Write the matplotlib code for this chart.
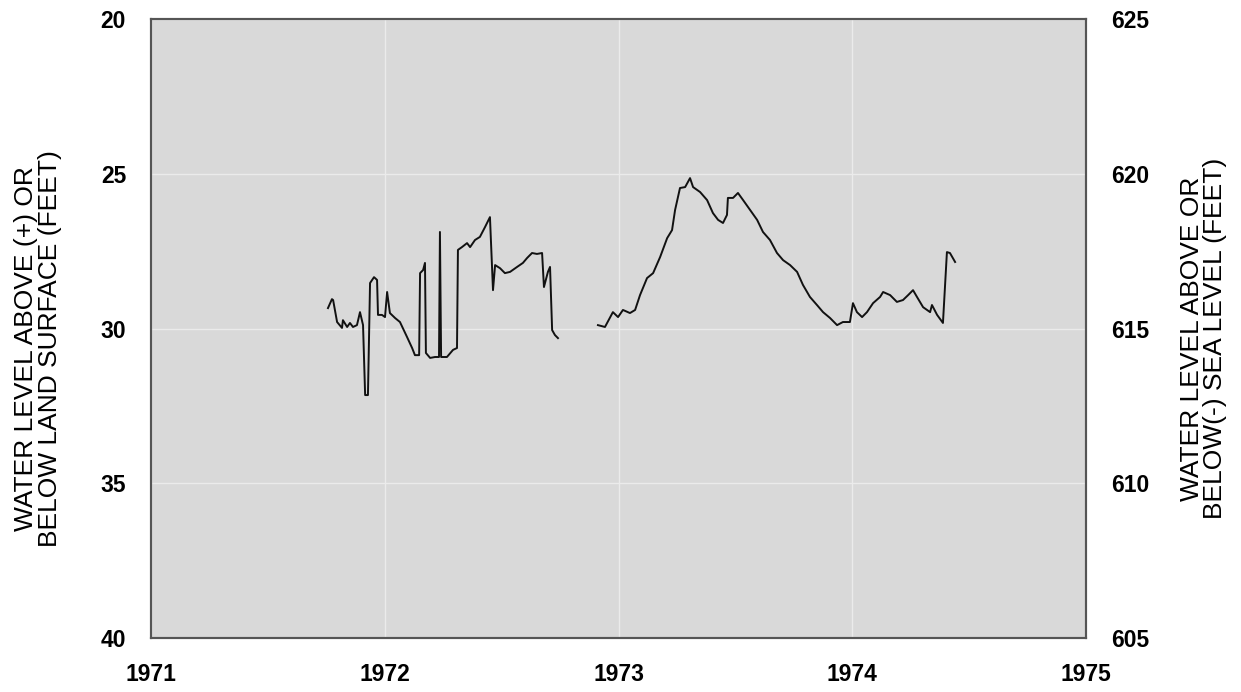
import numpy as np
import matplotlib
matplotlib.use('Agg')
import matplotlib.pyplot as plt

# water level below land surface (feet), decimal years
yr_1 = [1971.757, 1971.774, 1971.779, 1971.796, 1971.817, 1971.821, 1971.839, 1971.851,
        1971.864, 1971.881, 1971.894, 1971.907, 1971.916, 1971.928, 1971.937, 1971.954,
        1971.967, 1971.971, 1971.988, 1972.001, 1972.010, 1972.022, 1972.044, 1972.065,
        1972.095, 1972.117, 1972.129, 1972.147, 1972.151, 1972.164, 1972.172, 1972.176,
        1972.194, 1972.215, 1972.232, 1972.236, 1972.241, 1972.266, 1972.292, 1972.309,
        1972.313, 1972.330, 1972.352, 1972.365, 1972.386, 1972.407, 1972.429, 1972.450,
        1972.463, 1972.472, 1972.493, 1972.514, 1972.536, 1972.566, 1972.591, 1972.609,
        1972.630, 1972.651, 1972.673, 1972.681, 1972.698, 1972.707, 1972.716, 1972.728,
        1972.741]
lvl_1 = [29.34, 29.05, 29.08, 29.79, 29.98, 29.73, 29.95, 29.82,
         29.95, 29.89, 29.47, 29.89, 32.15, 32.15, 28.53, 28.34,
         28.43, 29.56, 29.56, 29.63, 28.82, 29.50, 29.66, 29.79,
         30.27, 30.63, 30.86, 30.86, 28.21, 28.11, 27.88, 30.79,
         30.95, 30.92, 30.92, 26.88, 30.92, 30.92, 30.69, 30.63,
         27.46, 27.37, 27.24, 27.37, 27.14, 27.04, 26.72, 26.40,
         28.76, 27.95, 28.05, 28.21, 28.17, 28.01, 27.88, 27.72,
         27.56, 27.59, 27.56, 28.66, 28.17, 28.01, 30.05, 30.21,
         30.31]

yr_2 = [1972.912, 1972.942, 1972.976, 1972.998, 1973.019, 1973.049, 1973.071, 1973.092,
        1973.122, 1973.148, 1973.178, 1973.208, 1973.229, 1973.242, 1973.263, 1973.285,
        1973.306, 1973.319, 1973.349, 1973.379, 1973.404, 1973.426, 1973.447, 1973.464,
        1973.468, 1973.490, 1973.511, 1973.533, 1973.563, 1973.593, 1973.618, 1973.648,
        1973.678, 1973.704, 1973.734, 1973.764, 1973.789, 1973.819, 1973.849, 1973.875,
        1973.905, 1973.935, 1973.960, 1973.990, 1974.003, 1974.020, 1974.042, 1974.063,
        1974.089, 1974.119, 1974.132, 1974.162, 1974.191, 1974.217, 1974.239, 1974.260,
        1974.277, 1974.303, 1974.333, 1974.341, 1974.363, 1974.388, 1974.405, 1974.418,
        1974.440]
lvl_2 = [29.89, 29.95, 29.47, 29.63, 29.40, 29.50, 29.40, 28.92,
         28.37, 28.21, 27.69, 27.08, 26.82, 26.17, 25.46, 25.43,
         25.14, 25.43, 25.59, 25.85, 26.27, 26.49, 26.59, 26.33,
         25.78, 25.78, 25.62, 25.85, 26.17, 26.49, 26.88, 27.14,
         27.56, 27.79, 27.95, 28.17, 28.59, 28.98, 29.24, 29.47,
         29.66, 29.89, 29.79, 29.79, 29.18, 29.47, 29.63, 29.47,
         29.18, 28.98, 28.82, 28.92, 29.14, 29.08, 28.92, 28.76,
         28.98, 29.31, 29.47, 29.24, 29.56, 29.82, 27.53, 27.56,
         27.85]

year_ticks = [1971, 1972, 1973, 1974, 1975]
depth_ticks = [20, 25, 30, 35, 40]
elev_ticks = [605, 610, 615, 620, 625]

plt.rcParams['font.family'] = ['Liberation Sans', 'DejaVu Sans']

fig = plt.figure(figsize=(12.41, 6.92), dpi=100)
ax = fig.add_axes([0.1217, 0.078, 0.7534, 0.8945])
ax.set_facecolor('#d9d9d9')
ax.plot(yr_1, lvl_1, color='#111111', lw=1.4)
ax.plot(yr_2, lvl_2, color='#111111', lw=1.4)
ax.set_xlim(1971, 1975)
ax.set_ylim(40, 20)
ax.set_xticks(year_ticks)
ax.set_yticks(depth_ticks)
ax.grid(True, color='#ebebeb', lw=1.0)
ax.set_axisbelow(True)
ax.tick_params(length=0, pad=18, labelsize=16.5)
for lab in ax.get_xticklabels() + ax.get_yticklabels():
    lab.set_fontweight('bold')
ax.set_ylabel('WATER LEVEL ABOVE (+) OR\nBELOW LAND SURFACE (FEET)', fontsize=19,
              labelpad=28, linespacing=0.95)
ax.yaxis.label.set_y(0.468)
for s in ax.spines.values():
    s.set_color('#555555')
    s.set_linewidth(1.5)

ax2 = ax.twinx()
ax2.set_ylim(605, 625)
ax2.set_yticks(elev_ticks)
ax2.tick_params(length=0, pad=18, labelsize=16.5)
for lab in ax2.get_yticklabels():
    lab.set_fontweight('bold')
ax2.set_ylabel('WATER LEVEL ABOVE OR\nBELOW(-) SEA LEVEL (FEET)', fontsize=19,
               labelpad=22, linespacing=0.95)
ax2.yaxis.label.set_y(0.484)
for s in ax2.spines.values():
    s.set_color('#555555')
    s.set_linewidth(1.5)

fig.savefig('out.png', dpi=100)
